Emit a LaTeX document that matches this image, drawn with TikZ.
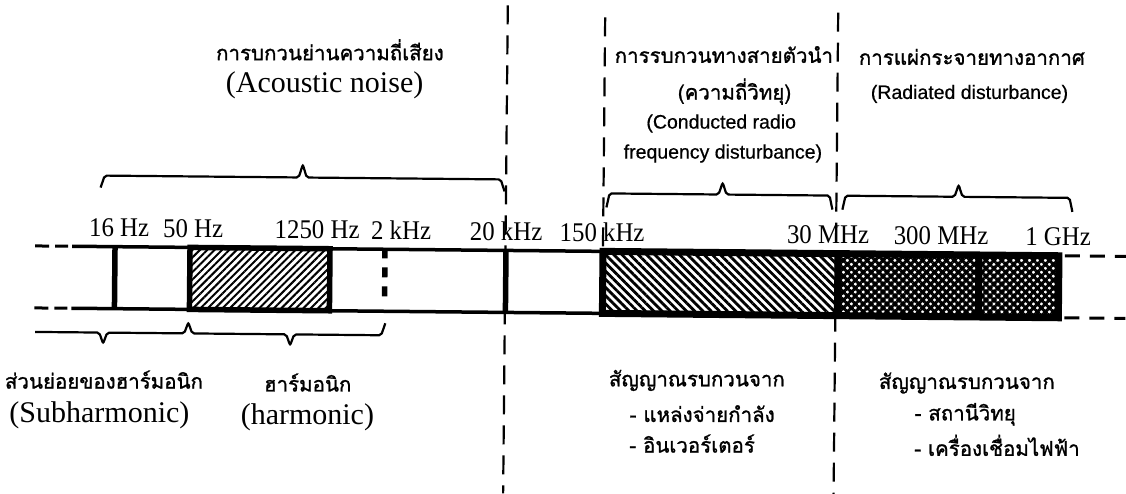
\documentclass[tikz,border=0pt]{standalone}
\usepackage{fontspec}
\setmainfont{Liberation Serif}
\newfontfamily\thaif[Script=Thai,FakeBold=1.2]{Loma}
\newfontfamily\arialf[FakeBold=0.5]{Liberation Sans}
\newfontfamily\condser[FakeStretch=0.92]{Liberation Serif}
\usetikzlibrary{patterns.meta}
\begin{document}
\begin{tikzpicture}[x=1pt,y=-1pt,
  dline/.style={line width=2.2pt, dash pattern=on 19pt off 11pt},
  barline/.style={line width=3.5pt},
  tick/.style={line width=5.5pt},
  heavy/.style={line width=7pt},
  bracepath/.style={line width=2.2pt, rounded corners=2pt},
  thaitxt/.style={font=\thaif\fontsize{20.5}{24}\selectfont, inner sep=0pt},
  sanstxt/.style={font=\arialf\fontsize{19.5}{23}\selectfont, inner sep=0pt},
  bigser/.style={font=\fontsize{30}{36}\selectfont, inner sep=0pt},
  freq/.style={font=\condser\fontsize{27}{32}\selectfont, inner sep=0pt, anchor=base}
]
\useasboundingbox[fill=white] (0,0) rectangle (1126,494);
\begin{scope}[rotate around={-0.55:(563,250)}]
% ---- hatched regions
\fill[pattern={Lines[angle=45,distance=5.2pt,line width=2pt]}] (190,251) rectangle (330,313);
\fill[pattern={Lines[angle=-45,distance=5.8pt,line width=2.8pt]}] (603,251) rectangle (838,313);
\fill[pattern={Hatch[angle=45,distance=5.6pt,line width=3pt]}] (838,251) rectangle (1059,313);
% ---- dashed vertical separators
\coordinate (a1) at (505.5,6);   \coordinate (a2) at (505.5,494);
\coordinate (b1) at (603,17);    \coordinate (b2) at (603,251);
\coordinate (c1) at (836,10);    \coordinate (c2) at (836,494);
\draw[dline] (a1) -- (a2);
\draw[dline] (b1) -- (b2);
\draw[dline] (c1) -- (c2);
% ---- bar
\coordinate (tl) at (72,251);  \coordinate (tr) at (1059,251);
\coordinate (bl) at (72,313);  \coordinate (br) at (1059,313);
\draw[barline] (tl) -- (tr);
\draw[barline] (bl) -- (br);
\draw[line width=3pt, dash pattern=on 14pt off 6pt] (35,251) -- (68,251);
\draw[line width=3pt, dash pattern=on 14pt off 6pt] (35,313) -- (68,313);
\draw[line width=3pt, dash pattern=on 15pt off 10pt] (1065,251) -- (1126,251);
\draw[line width=3pt, dash pattern=on 15pt off 10pt] (1065,313) -- (1126,313);
\draw[tick] (115,251) -- (115,313);
\draw[line width=5.5pt] (190,251) rectangle (330,313);
\draw[line width=5.5pt, dash pattern=on 10pt off 9pt] (385,250) -- (385,300);
\draw[tick] (506,251) -- (506,313);
\draw[heavy] (603,251) rectangle (1059,313);
\draw[heavy] (838,251) -- (838,313);
\draw[heavy] (979,251) -- (979,313);
% ---- braces
\draw[bracepath] (100,192) -- (104,180) -- (298,180) -- (302,167) -- (306,180) -- (500,180) -- (504,192);
\draw[bracepath] (606,207) -- (609,193) -- (718,193) -- (722,181) -- (726,193) -- (829,193) -- (832,207);
\draw[bracepath] (842,207) -- (845,193) -- (954,193) -- (958,181) -- (962,193) -- (1069,193) -- (1072,207);
\draw[bracepath] (36,337) -- (100,337) -- (104,348) -- (108,337) -- (185,337) -- (189,326) -- (193,337) -- (287,337) -- (291,348) -- (295,337) -- (382,337) -- (386,325);
% ---- frequency labels
\node[freq] (f16) at (119,241) {16 Hz};
\node[freq] (f50) at (193,241) {50 Hz};
\node[freq] (f1250) at (317,241) {1250 Hz};
\node[freq] (f2k) at (401,241) {2 kHz};
\node[freq] (f20k) at (506,241) {20 kHz};
\node[freq] (f150k) at (602,241) {150 kHz};
\node[freq] (f30M) at (828,241) {30 MHz};
\node[freq] (f300M) at (941,241) {300 MHz};
\node[freq] (f1G) at (1058,241) {1 GHz};
% ---- top texts
\node[thaitxt] (acth) at (328,52) {การบกวนย่านความถี่เสียง};
\node[bigser] (acen) at (323,88) {(Acoustic noise)};
\node[thaitxt] (coth) at (722,53) {การรบกวนทางสายตัวนำ};
\node[thaitxt] (coth2) at (733,90) {(ความถี่วิทยุ)};
\node[sanstxt] (coen1) at (720,122) {(Conducted radio};
\node[sanstxt] (coen2) at (722,152) {frequency disturbance)};
\node[thaitxt] (rath) at (970,53) {การแผ่กระจายทางอากาศ};
\node[sanstxt] (raen) at (968,90) {(Radiated disturbance)};
% ---- bottom texts
\node[thaitxt, anchor=west] (subth) at (6,385) {ส่วนย่อยของฮาร์มอนิก};
\node[bigser] (suben) at (101,420) {(Subharmonic)};
\node[thaitxt] (harth) at (309,385) {ฮาร์มอนิก};
\node[bigser] (haren) at (309,420) {(harmonic)};
\node[thaitxt, anchor=west] (src1) at (610,380) {สัญญาณรบกวนจาก};
\node[thaitxt, anchor=west] (src1a) at (631,413) {- แหล่งจ่ายกำลัง};
\node[thaitxt, anchor=west] (src1b) at (631,443) {- อินเวอร์เตอร์};
\node[thaitxt, anchor=west] (src2) at (880,380) {สัญญาณรบกวนจาก};
\node[thaitxt, anchor=west] (src2a) at (916,411) {- สถานีวิทยุ};
\node[thaitxt, anchor=west] (src2b) at (916,442) {- เครื่องเชื่อมไฟฟ้า};
\end{scope}
\end{tikzpicture}
\end{document}
